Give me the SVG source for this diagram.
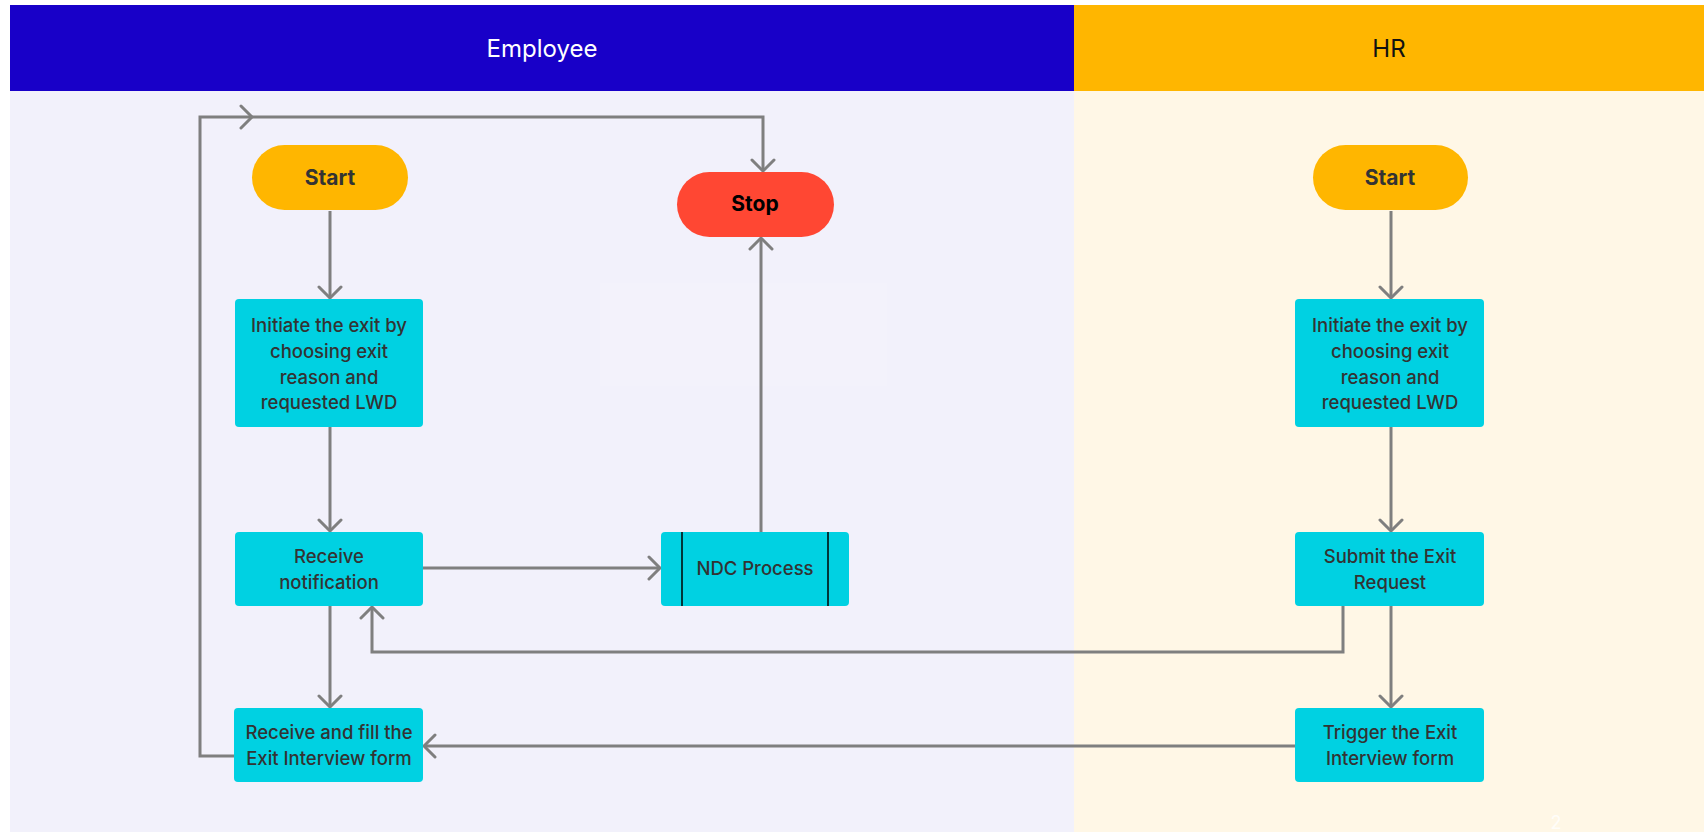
<svg xmlns="http://www.w3.org/2000/svg" width="1704" height="832" viewBox="0 0 1704 832">
  <style>
    .lane-title { font-family: Inter, "Noto Sans", sans-serif; font-size: 24px; text-anchor: middle; }
    .proc { fill: #00D1E2; }
    .label { font-family: Inter, "Noto Sans", sans-serif; font-size: 18.5px; font-weight: 500; fill: #333333; text-anchor: middle; }
    .term { font-family: Inter, "Noto Sans", sans-serif; font-size: 21px; font-weight: 700; text-anchor: middle; }
    .flow { fill: none; stroke: #7F7F7F; stroke-width: 3; marker-end: url(#chev); }
  </style>
  <defs>
    <marker id="chev" viewBox="-13 -13 16 26" refX="0" refY="0" markerWidth="16" markerHeight="26" markerUnits="userSpaceOnUse" orient="auto">
      <path d="M-11,-11 L0,0 L-11,11" fill="none" stroke="#7F7F7F" stroke-width="3" stroke-linecap="round" stroke-linejoin="round"/>
    </marker>
  </defs>

  <rect width="1704" height="832" fill="#FFFFFF"/>

  <!-- swimlanes -->
  <g id="lane-employee">
    <rect x="10" y="91" width="1064" height="741" fill="#F2F1FB"/>
    <rect x="10" y="5" width="1064" height="86" fill="#1800C8"/>
    <text class="lane-title" x="542" y="57" fill="#FFFFFF">Employee</text>
  </g>
  <g id="lane-hr">
    <rect x="1074" y="91" width="630" height="741" fill="#FFF7E6"/>
    <rect x="1074" y="5" width="630" height="86" fill="#FFB600"/>
    <text class="lane-title" x="1389" y="57" fill="#111111">HR</text>
  </g>
  <rect x="600" y="283" width="287" height="103" fill="#F3F2FB"/>
  <text x="1556" y="829" font-family="Inter, sans-serif" font-size="18" fill="#FFFFFF" fill-opacity="0.8" text-anchor="middle">2</text>

  <!-- connectors -->
  <g id="connectors">
    <path class="flow" d="M330,211 V298"/>
    <path class="flow" d="M330,427 V531"/>
    <path class="flow" d="M330,606 V707"/>
    <path class="flow" d="M423,568 H660"/>
    <path class="flow" d="M761,532 V238"/>
    <path class="flow" d="M234,756 H200 V117 H252"/>
    <path class="flow" d="M250,117 H763 V171"/>
    <path class="flow" d="M1343,606 V652 H372 V607"/>
    <path class="flow" d="M1295,746 H424"/>
    <path class="flow" d="M1391,211 V298"/>
    <path class="flow" d="M1391,427 V531"/>
    <path class="flow" d="M1391,606 V707"/>
  </g>

  <!-- employee nodes -->
  <g id="emp-start">
    <rect x="252" y="145" width="156" height="65" rx="32.5" fill="#FFB600"/>
    <text class="term" x="330" y="185" fill="#333333">Start</text>
  </g>
  <g id="emp-initiate">
    <rect class="proc" x="235" y="299" width="188" height="128" rx="4"/>
    <text class="label" x="329" y="332">Initiate the exit by</text>
    <text class="label" x="329" y="358">choosing exit</text>
    <text class="label" x="329" y="384">reason and</text>
    <text class="label" x="329" y="409">requested LWD</text>
  </g>
  <g id="emp-notification">
    <rect class="proc" x="235" y="532" width="188" height="74" rx="4"/>
    <text class="label" x="329" y="563">Receive</text>
    <text class="label" x="329" y="589">notification</text>
  </g>
  <g id="emp-interview">
    <rect class="proc" x="234" y="708" width="189" height="74" rx="4"/>
    <text class="label" x="329" y="739">Receive and fill the</text>
    <text class="label" x="329" y="765">Exit Interview form</text>
  </g>
  <g id="emp-stop">
    <rect x="677" y="172" width="157" height="65" rx="32.5" fill="#FF4733"/>
    <text class="term" x="755" y="211" fill="#000000">Stop</text>
  </g>
  <g id="emp-ndc">
    <rect class="proc" x="661" y="532" width="188" height="74" rx="4"/>
    <line x1="682" y1="532" x2="682" y2="606" stroke="#000000" stroke-width="1.5"/>
    <line x1="828" y1="532" x2="828" y2="606" stroke="#000000" stroke-width="1.5"/>
    <text class="label" x="755" y="575">NDC Process</text>
  </g>

  <!-- HR nodes -->
  <g id="hr-start">
    <rect x="1313" y="145" width="155" height="65" rx="32.5" fill="#FFB600"/>
    <text class="term" x="1390" y="185" fill="#333333">Start</text>
  </g>
  <g id="hr-initiate">
    <rect class="proc" x="1295" y="299" width="189" height="128" rx="4"/>
    <text class="label" x="1390" y="332">Initiate the exit by</text>
    <text class="label" x="1390" y="358">choosing exit</text>
    <text class="label" x="1390" y="384">reason and</text>
    <text class="label" x="1390" y="409">requested LWD</text>
  </g>
  <g id="hr-submit">
    <rect class="proc" x="1295" y="532" width="189" height="74" rx="4"/>
    <text class="label" x="1390" y="563">Submit the Exit</text>
    <text class="label" x="1390" y="589">Request</text>
  </g>
  <g id="hr-trigger">
    <rect class="proc" x="1295" y="708" width="189" height="74" rx="4"/>
    <text class="label" x="1390" y="739">Trigger the Exit</text>
    <text class="label" x="1390" y="765">Interview form</text>
  </g>
</svg>
